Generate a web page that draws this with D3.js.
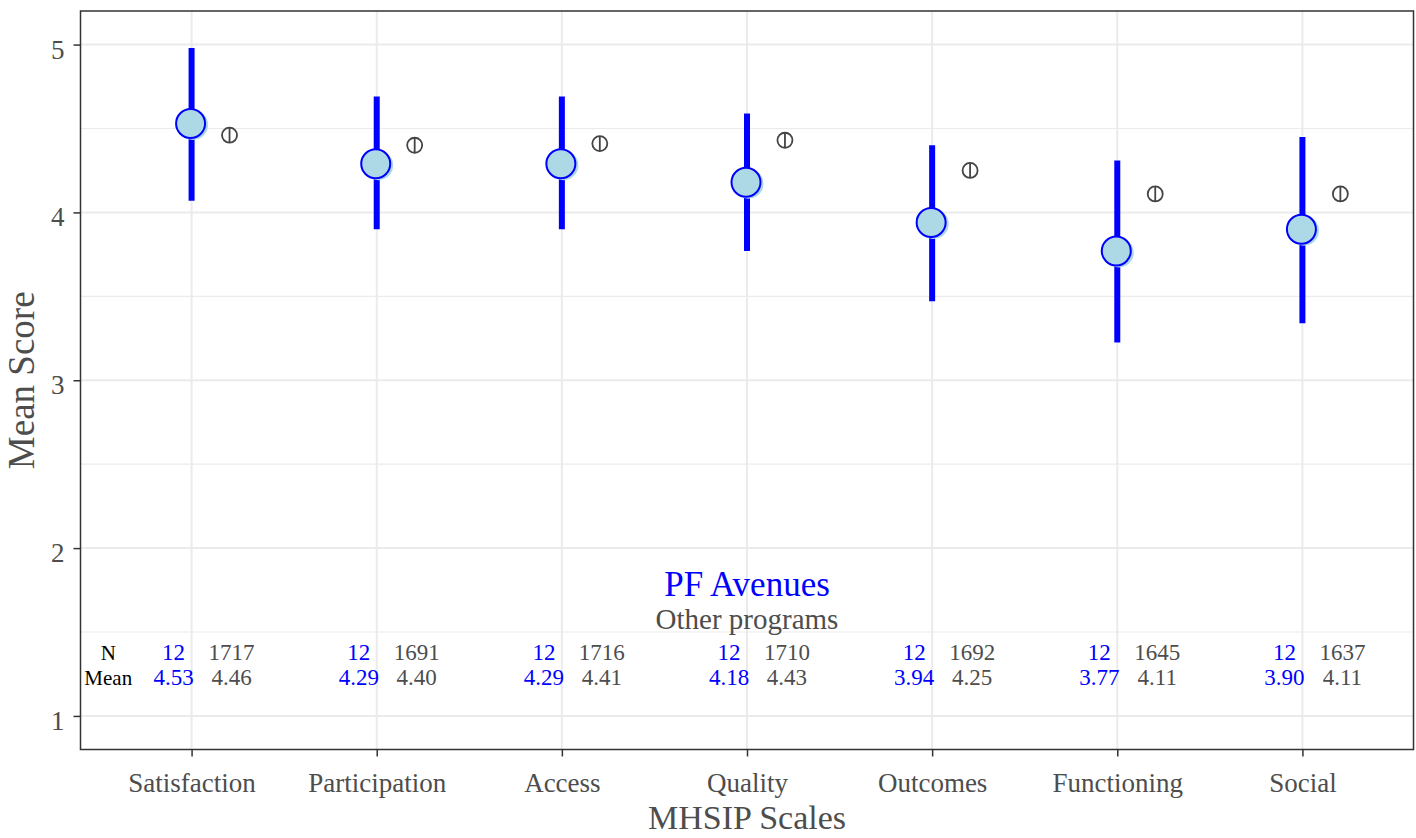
<!DOCTYPE html>
<html>
<head>
<meta charset="utf-8">
<script src="https://cdn.jsdelivr.net/npm/d3@7"></script>
<style>
  html, body { margin: 0; padding: 0; background: #fff; }
  svg { display: block; }
  text { font-family: "Liberation Serif", "DejaVu Serif", serif; }
</style>
</head>
<body>
<svg id="chart" width="1416" height="838"></svg>
<script>
// MHSIP scale results: program means with intervals, compared with other programs
const scales = ["Satisfaction", "Participation", "Access", "Quality", "Outcomes", "Functioning", "Social"];
const programMean = [4.53, 4.29, 4.29, 4.18, 3.94, 3.77, 3.90];
const programLower = [4.07, 3.90, 3.90, 3.77, 3.47, 3.225, 3.34];
const programUpper = [4.98, 4.69, 4.69, 4.59, 4.40, 4.31, 4.45];
const programN = [12, 12, 12, 12, 12, 12, 12];
const otherMean = [4.46, 4.40, 4.41, 4.43, 4.25, 4.11, 4.11];
const otherN = [1717, 1691, 1716, 1710, 1692, 1645, 1637];
const yTicks = [1, 2, 3, 4, 5];
const yMinor = [1.5, 2.5, 3.5, 4.5];

const programName = "PF Avenues";
const otherName = "Other programs";

const W = 1416, H = 838;
const panel = { left: 80.5, top: 11, right: 1413.5, bottom: 749.5 };

const svg = d3.select("#chart");

// discrete x positions with ggplot-like 0.6 expansion on each side
const x = d3.scaleLinear()
  .domain([1 - 0.6, scales.length + 0.6])
  .range([panel.left, panel.right]);
const y = d3.scaleLinear()
  .domain([0.8, 5.2])
  .range([panel.bottom, panel.top]);

const grid = svg.append("g");
grid.selectAll("line.minor").data(yMinor).join("line")
  .attr("x1", panel.left).attr("x2", panel.right)
  .attr("y1", d => y(d)).attr("y2", d => y(d))
  .attr("stroke", "#EBEBEB").attr("stroke-width", 1.2);
grid.selectAll("line.major").data(yTicks).join("line")
  .attr("x1", panel.left).attr("x2", panel.right)
  .attr("y1", d => y(d)).attr("y2", d => y(d))
  .attr("stroke", "#EBEBEB").attr("stroke-width", 2);
grid.selectAll("line.vx").data(scales).join("line")
  .attr("x1", (d, i) => x(i + 1)).attr("x2", (d, i) => x(i + 1))
  .attr("y1", panel.top).attr("y2", panel.bottom)
  .attr("stroke", "#EBEBEB").attr("stroke-width", 2);

// axes
const xAxis = d3.axisBottom(x)
  .tickValues(d3.range(1, scales.length + 1))
  .tickFormat(d => scales[d - 1])
  .tickSize(7).tickSizeOuter(0).tickPadding(10);
const gx = svg.append("g").attr("transform", `translate(0,${panel.bottom})`).call(xAxis);
gx.select(".domain").remove();
gx.selectAll(".tick line").attr("stroke", "#333").attr("stroke-width", 1.5);
gx.selectAll(".tick text").attr("fill", "#4D4D4D").attr("font-size", 27)
  .attr("font-family", "Liberation Serif").attr("dy", "0.95em");

const yAxis = d3.axisLeft(y).tickValues(yTicks).tickFormat(d3.format("d"))
  .tickSize(7).tickSizeOuter(0).tickPadding(9);
const gy = svg.append("g").attr("transform", `translate(${panel.left},0)`).call(yAxis);
gy.select(".domain").remove();
gy.selectAll(".tick line").attr("stroke", "#333").attr("stroke-width", 1.5);
gy.selectAll(".tick text").attr("fill", "#4D4D4D").attr("font-size", 27)
  .attr("font-family", "Liberation Serif").attr("dy", "0.5em");

// panel border
svg.append("rect")
  .attr("x", panel.left).attr("y", panel.top)
  .attr("width", panel.right - panel.left).attr("height", panel.bottom - panel.top)
  .attr("fill", "none").attr("stroke", "#333").attr("stroke-width", 1.5);

// axis titles
svg.append("text")
  .attr("x", (panel.left + panel.right) / 2).attr("y", 829)
  .attr("text-anchor", "middle").attr("font-size", 34).attr("fill", "#4D4D4D")
  .text("MHSIP Scales");
svg.append("text")
  .attr("transform", `translate(34,${(panel.top + panel.bottom) / 2}) rotate(-90)`)
  .attr("text-anchor", "middle").attr("font-size", 37).attr("fill", "#4D4D4D")
  .text("Mean Score");

const idx = d3.range(scales.length);
const marks = svg.append("g");

// program intervals
marks.selectAll("line.ci").data(idx).join("line")
  .attr("x1", i => x(i + 1)).attr("x2", i => x(i + 1))
  .attr("y1", i => y(programLower[i])).attr("y2", i => y(programUpper[i]))
  .attr("stroke", "#0000FF").attr("stroke-width", 6);

// program means
marks.selectAll("circle.shade").data(idx).join("circle")
  .attr("cx", i => x(i + 1) + 1.5).attr("cy", i => y(programMean[i]) + 1.5)
  .attr("r", 15).attr("fill", "#ADD8E6");
marks.selectAll("circle.pt").data(idx).join("circle")
  .attr("cx", i => x(i + 1) - 1).attr("cy", i => y(programMean[i]))
  .attr("r", 14.5).attr("fill", "#ADD8E6").attr("stroke", "#0000FF").attr("stroke-width", 2);

// other programs means
const other = marks.selectAll("g.other").data(idx).join("g")
  .attr("transform", i => `translate(${x(i + 1.205)},${y(otherMean[i])})`);
other.append("circle").attr("r", 7.5).attr("fill", "none")
  .attr("stroke", "#444").attr("stroke-width", 1.8);
other.append("line").attr("x1", 0).attr("x2", 0).attr("y1", -7.5).attr("y2", 7.5)
  .attr("stroke", "#444").attr("stroke-width", 1.8);

// legend text inside the panel
const mid = (scales.length + 1) / 2;
svg.append("text").attr("x", x(mid)).attr("y", y(1.715))
  .attr("text-anchor", "middle").attr("font-size", 35).attr("fill", "#0000FF")
  .text(programName);
svg.append("text").attr("x", x(mid)).attr("y", y(1.52))
  .attr("text-anchor", "middle").attr("font-size", 29).attr("fill", "#4D4D4D")
  .text(otherName);

// N and Mean table
const rowN = y(1.335), rowMean = y(1.183);
svg.append("text").attr("x", x(0.55)).attr("y", rowN)
  .attr("text-anchor", "middle").attr("font-size", 21).attr("fill", "#000").text("N");
svg.append("text").attr("x", x(0.55)).attr("y", rowMean)
  .attr("text-anchor", "middle").attr("font-size", 21).attr("fill", "#000").text("Mean");

const tbl = svg.append("g").attr("font-size", 23).attr("text-anchor", "middle");
tbl.selectAll("text.pn").data(idx).join("text")
  .attr("x", i => x(i + 1 - 0.097)).attr("y", rowN).attr("fill", "#0000FF")
  .text(i => programN[i]);
tbl.selectAll("text.pm").data(idx).join("text")
  .attr("x", i => x(i + 1 - 0.097)).attr("y", rowMean).attr("fill", "#0000FF")
  .text(i => programMean[i].toFixed(2));
tbl.selectAll("text.on").data(idx).join("text")
  .attr("x", i => x(i + 1 + 0.216)).attr("y", rowN).attr("fill", "#4D4D4D")
  .text(i => otherN[i]);
tbl.selectAll("text.om").data(idx).join("text")
  .attr("x", i => x(i + 1 + 0.216)).attr("y", rowMean).attr("fill", "#4D4D4D")
  .text(i => otherMean[i].toFixed(2));
</script>
</body>
</html>
